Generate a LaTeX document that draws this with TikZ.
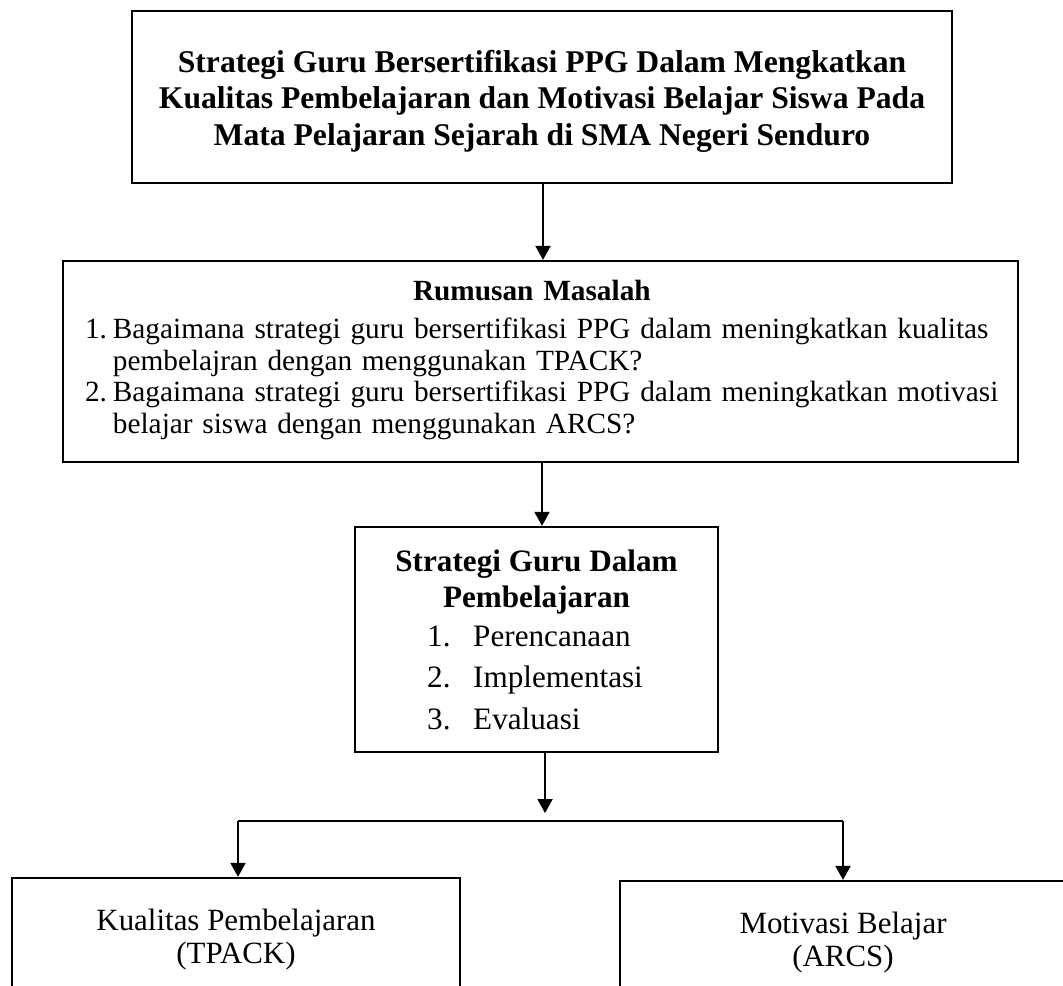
\documentclass[tikz,border=0pt]{standalone}
\usepackage{fontspec}
\setmainfont{Liberation Serif}
\usetikzlibrary{positioning,arrows.meta}
\begin{document}
\begin{tikzpicture}[x=0.43pt, y=-0.43pt, >={Triangle[length=6pt,width=6.5pt]},
		main/.style = {draw, line width=1pt, inner sep=0pt, font=\fontsize{13.3}{14.2}\selectfont},
		line/.style = {line width=0.6pt}]
		\useasboundingbox (0,0) rectangle (1063,985);
		\clip (0,0) rectangle (1063,985);
		
		\node[main, minimum width=352.6pt, minimum height=74pt, align=center, font=\fontsize{13.6}{15.9}\selectfont\bfseries] (1) at (542,97) {\rule{0pt}{13.3pt}Strategi Guru Bersertifikasi PPG Dalam Mengkatkan\\ Kualitas Pembelajaran dan Motivasi Belajar Siswa Pada\\ Mata Pelajaran Sejarah di SMA Negeri Senduro};
		
		\node[main, minimum height=86.4pt, inner xsep=9.5pt, text width=391.7pt, font=\fontsize{12.6}{13.5}\selectfont] (2) at (540.5,361.5) {{\centering\bfseries Rumusan Masalah\hspace*{7.4pt}\par}\vspace{2.8pt}
			\noindent\begin{tabular}[t]{@{}p{12pt}@{}l@{}}
				1. & \makebox[377.5pt][s]{Bagaimana strategi guru bersertifikasi PPG dalam meningkatkan kualitas}\\
				& pembelajran dengan menggunakan TPACK?\\
				2. & \makebox[377.5pt][s]{Bagaimana strategi guru bersertifikasi PPG dalam meningkatkan motivasi}\\
				& belajar siswa dengan menggunakan ARCS?
			\end{tabular}};
		
		\node[main, minimum width=156pt, minimum height=96.75pt, align=center, font=\fontsize{13.4}{15.5}\selectfont] (3) at (536.5,639.5) {\textbf{Strategi Guru Dalam}\\
			\textbf{Pembelajaran}\\[1.3pt]
			\makebox[156pt][l]{\hspace{31pt}\makebox[19.8pt][l]{1.}Perencanaan}\\[2.35pt]
			\makebox[156pt][l]{\hspace{31pt}\makebox[19.8pt][l]{2.}Implementasi}\\[2.35pt]
			\makebox[156pt][l]{\hspace{31pt}\makebox[19.8pt][l]{3.}Evaluasi}};
		
		\node[main, minimum width=192.6pt, minimum height=53.3pt, align=center] (4) at (236,940) {Kualitas Pembelajaran\\ (TPACK)};
		\node[main, minimum width=191.8pt, minimum height=53.3pt, align=center] (5) at (843,943) {Motivasi Belajar\\ (ARCS)};
		
		\coordinate (x1) at (543,0);
		\coordinate (x2) at (542,0);
		\coordinate (x3) at (545,0);
		\coordinate (j) at (545,813);
		\coordinate (jl) at (238,821);
		\coordinate (jr) at (843,821);
		\draw[line, ->] (1.south -| x1) -- (2.north -| x1);
		\draw[line, ->] (2.south -| x2) -- (3.north -| x2);
		\draw[line, ->] (3.south -| x3) -- (j);
		\draw[line, line width=0.5pt] (jl) -- (jr);
		\draw[line, ->] (jl) -- (4.north -| jl);
		\draw[line, ->] (jr) -- (5.north -| jr);
	\end{tikzpicture}
\end{document}
